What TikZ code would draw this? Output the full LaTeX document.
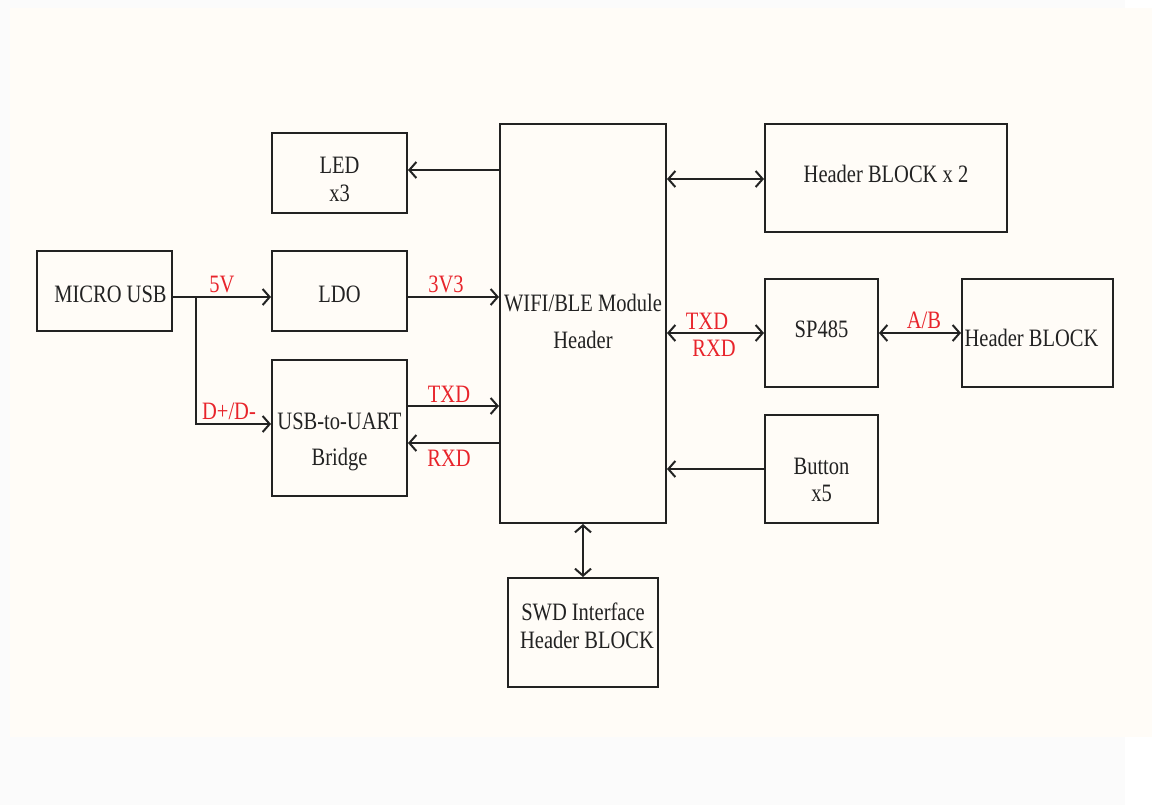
\documentclass[tikz,border=0pt]{standalone}
\usepackage{fontspec}
\setmainfont{Liberation Serif}[FakeStretch=0.82]
\usetikzlibrary{arrows.meta}
\definecolor{ink}{HTML}{222222}
\definecolor{lbl}{HTML}{E8242B}
\definecolor{cream}{HTML}{FFFCF7}
\definecolor{outer}{HTML}{FBFBFB}
\tikzset{
  blk/.style={draw=ink, line width=1pt, fill=cream, inner sep=0pt, align=center, text=ink,
              font=\fontsize{12.5}{14}\selectfont},
  tx/.style={align=center, text=ink, inner sep=0pt, font=\fontsize{12.5}{14}\selectfont},
  sig/.style={text=lbl, inner sep=0pt, font=\fontsize{12.5}{14}\selectfont},
  conn/.style={draw=ink, line width=1pt},
  arr/.style={conn, -{Straight Barb[length=3.5pt,width=8pt,line width=1pt]}},
  darr/.style={conn, {Straight Barb[length=3.5pt,width=8pt,line width=1pt]}-{Straight Barb[length=3.5pt,width=8pt,line width=1pt]}}
}
\begin{document}
\begin{tikzpicture}[x=0.5pt,y=-0.5pt]
\useasboundingbox (0,0) rectangle (1152,805);
\fill[outer] (0,0) rectangle (1152,805);
\fill[cream] (10,8) rectangle (1152,737);
\fill[white] (1125,737) rectangle (1152,805);
\fill[white] (1125,0) rectangle (1152,8);

% blocks
\node[blk, minimum width=67.5pt, minimum height=40pt,
      label={[tx, xshift=3pt, yshift=-1.5pt]center:MICRO USB}] (usb) at (104.5,291) {};
\node[blk, minimum width=67.5pt, minimum height=40pt,
      label={[tx, yshift=-3pt]center:LED\\x3}] (led) at (339.5,173) {};
\node[blk, minimum width=67.5pt, minimum height=40pt,
      label={[tx, yshift=-1.5pt]center:LDO}] (ldo) at (339.5,291) {};
\node[blk, minimum width=67.5pt, minimum height=68pt,
      label={[tx, yshift=-7pt, font=\fontsize{12.5}{18}\selectfont]center:USB-to-UART\\Bridge}] (bridge) at (339.5,428) {};
\node[blk, minimum width=83pt, minimum height=199.5pt,
      label={[tx, yshift=1.25pt, font=\fontsize{12.5}{18.5}\selectfont]center:WIFI/BLE Module\\Header}] (wifi) at (583,323.5) {};
\node[blk, minimum width=121pt, minimum height=54pt,
      label={[tx, yshift=2pt]center:Header BLOCK x 2}] (hdr2) at (886,178) {};
\node[blk, minimum width=56.5pt, minimum height=54pt,
      label={[tx, yshift=2pt]center:SP485}] (sp) at (821.5,333) {};
\node[blk, minimum width=75.5pt, minimum height=54pt,
      label={[tx, xshift=-3pt, yshift=-2.5pt]center:Header BLOCK}] (hdr) at (1037.5,333) {};
\node[blk, minimum width=56.5pt, minimum height=54pt,
      label={[tx, yshift=-5.5pt, font=\fontsize{12.5}{13.5}\selectfont]center:Button\\x5}] (btn) at (821.5,469) {};
\node[blk, minimum width=75pt, minimum height=54.5pt,
      label={[tx, yshift=3.5pt]center:SWD Interface\\\hspace*{4pt}Header BLOCK}] (swd) at (583,632.5) {};

% connectors
\draw[arr] ([yshift=1.5pt]led.east -| wifi.west) -- ([yshift=1.5pt]led.east);
\draw[darr] ([yshift=-0.5pt]hdr2.west -| wifi.east) -- ([yshift=-0.5pt]hdr2.west);
\coordinate (j) at (196,297);
\draw[arr] ([yshift=-3pt]usb.east) -- ([yshift=-3pt]ldo.west);
\draw[arr] (j) |- ([yshift=2pt]bridge.west);
\draw[arr] ([yshift=-3pt]ldo.east) -- ([yshift=-3pt]ldo.east -| wifi.west);
\draw[arr] ([yshift=11pt]bridge.east) -- ([yshift=11pt]bridge.east -| wifi.west);
\draw[arr] ([yshift=-7.5pt]bridge.east -| wifi.west) -- ([yshift=-7.5pt]bridge.east);
\draw[darr] (sp.west -| wifi.east) -- (sp.west);
\draw[darr] (sp.east) -- (hdr.west);
\draw[arr] (btn.west) -- (btn.west -| wifi.east);
\draw[darr] (wifi.south) -- (swd.north);

% signal labels
\node[sig] (l5v) at (222,284) {5V};
\node[sig] (l3v3) at (446,284) {3V3};
\node[sig] (ldd) at (229,411) {D+/D-};
\node[sig] (ltx1) at (449,394) {TXD};
\node[sig] (lrx1) at (449,458) {RXD};
\node[sig] (ltx2) at (707,321) {TXD};
\node[sig] (lrx2) at (714,348) {RXD};
\node[sig] (lab) at (924,320) {A/B};
\end{tikzpicture}
\end{document}
